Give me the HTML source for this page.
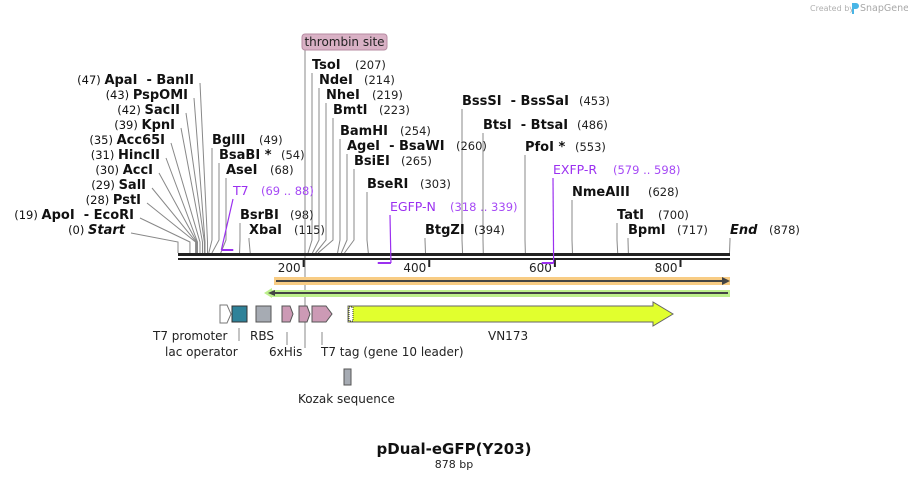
<!DOCTYPE html>
<html><head><meta charset="utf-8">
<style>
html,body{margin:0;padding:0;background:#fff;}
svg{display:block;font-family:"DejaVu Sans","Liberation Sans",sans-serif;}
</style></head>
<body>
<svg id="map" width="908" height="480" viewBox="0 0 908 480">
  <text x="810" y="11" font-size="8" fill="#b0b0b0">Created by</text>
  <path d="M852 3 h4 a3 3 0 0 1 0 6 h-2 v5 h-2 z" fill="#49b5e6"/>
  <text x="860" y="11" font-size="9.5" fill="#a8a8a8">SnapGene</text>
  <g id="leaders"></g>
  <g id="labels"></g>
  <line x1="305" y1="50" x2="305" y2="348" stroke="#888" stroke-width="1"/>
  <rect x="302" y="34" width="85" height="16" rx="3" fill="#d9b1c5" stroke="#b78ba2"/>
  <text x="344.5" y="46" font-size="12" text-anchor="middle" fill="#222">thrombin site</text>
  <rect x="178" y="253" width="552" height="3" fill="#222"/>
  <rect x="178" y="258" width="552" height="2" fill="#222"/>
  <g id="ticks"></g>
  <g id="primers"></g>
  <rect x="274" y="277" width="456" height="8" fill="#f8cc84"/>
  <line x1="276" y1="281" x2="724" y2="281" stroke="#444" stroke-width="2"/>
  <path d="M722 277 L730 281 L722 285 Z" fill="#444"/>
  <rect x="270" y="290" width="460" height="7" fill="#bdf08c"/>
  <path d="M264 293 L272 288 L272 298 Z" fill="#bdf08c"/>
  <line x1="272" y1="293" x2="728" y2="293" stroke="#444" stroke-width="2"/>
  <path d="M268 293 L275 290 L275 296 Z" fill="#444"/>
  <path d="M220 305 L227 305 L231 314 L227 323 L220 323 Z" fill="#fff" stroke="#777"/>
  <rect x="232" y="306" width="15" height="16" fill="#2f8299" stroke="#333"/>
  <rect x="256" y="306" width="15" height="16" fill="#a6abb3" stroke="#555"/>
  <path d="M282 306 L290 306 L293 314 L290 322 L282 322 Z" fill="#cc9ab5" stroke="#555"/>
  <path d="M299 306 L307 306 L310 314 L307 322 L299 322 Z" fill="#cc9ab5" stroke="#555"/>
  <path d="M312 306 L326 306 L332 314 L326 322 L312 322 Z" fill="#cc9ab5" stroke="#555"/>
  <path d="M348 306 L653 306 L653 302 L673 314 L653 326 L653 322 L348 322 Z" fill="#e1ff2e" stroke="#666"/>
  <rect x="349" y="307" width="4" height="14" fill="#fff" stroke="#333" stroke-dasharray="1 1" stroke-width="1"/>
  <rect x="344" y="369" width="7" height="16" fill="#a6abb3" stroke="#555"/>
  <line x1="239" y1="328" x2="239" y2="341" stroke="#888"/>
  <line x1="287" y1="332" x2="287" y2="345" stroke="#888"/>
  <line x1="322" y1="332" x2="322" y2="345" stroke="#888"/>
  <g font-size="12" fill="#222">
    <text x="153" y="340">T7 promoter</text>
    <text x="165" y="356">lac operator</text>
    <text x="250" y="340">RBS</text>
    <text x="269" y="356">6xHis</text>
    <text x="321" y="356">T7 tag (gene 10 leader)</text>
    <text x="488" y="340">VN173</text>
    <text x="298" y="403">Kozak sequence</text>
  </g>
  <text x="454" y="454" font-size="15" font-weight="bold" text-anchor="middle" fill="#111">pDual-eGFP(Y203)</text>
  <text x="454" y="468" font-size="11" text-anchor="middle" fill="#222">878 bp</text>
</svg>
<script>
const leftNames = ["ApaI  - BanII","PspOMI","SacII","KpnI","Acc65I","HincII","AccI","SalI","PstI","ApoI  - EcoRI","Start"];
const leftPos = [47,43,42,39,35,31,30,29,28,19,0];
const rightNames = ["BglII","BsaBI *","AseI","BsrBI","XbaI","TsoI","NdeI","NheI","BmtI","BamHI","AgeI  - BsaWI","BsiEI","BseRI","BtgZI","BssSI  - BssSaI","BtsI  - BtsaI","PfoI *","NmeAIII","TatI","BpmI","End"];
const rightPos = [49,54,68,98,115,207,214,219,223,254,260,265,303,394,453,486,553,628,700,717,878];
const primerNames = ["T7","EGFP-N","EXFP-R"];
const primerStart = [69,318,579];
const primerEnd = [88,339,598];
const tickValues = [200,400,600,800];
const seqLen = 878;

const NS="http://www.w3.org/2000/svg";
const X0=178, X1=729.5;
function xScale(bp){return X0+bp*(X1-X0)/seqLen;}
function mk(tag,attrs,parent){const e=document.createElementNS(NS,tag);for(const k in attrs)e.setAttribute(k,attrs[k]);parent.appendChild(e);return e;}
const leaders=document.getElementById('leaders'), labels=document.getElementById('labels');

const leftLayout=[[194,80],[188,95],[180,110],[175,125],[165,140],[160,155],[153,170],[146,185],[141,200],[134,215],[125,230]];
leftNames.forEach((n,i)=>{
  const [ex,y]=leftLayout[i];
  const t=mk('text',{x:ex,y:y+4,'text-anchor':'end',fill:'#111','xml:space':'preserve'},labels);
  
  
  const a=mk('tspan',{'font-size':11.5},t); a.textContent='('+leftPos[i]+')  ';
  const b=mk('tspan',{'font-weight':'bold','font-size':13},t); b.textContent=n.replace('  ','\u00a0 ');
  if(n==='Start') b.setAttribute('font-style','italic');
  const px=xScale(leftPos[i]);
  const l=mk('path',{d:`M${ex+6} ${y+3} L${px} 242 L${px} 253`,stroke:'#888',fill:'none','stroke-width':1},leaders);
  
  
});
const rightLayout=[[212,140,259],[219,155,281],[226,170,270],[240,215,290],[249,230,294],[312,65,355],[319,80,364],[326,95,372],[333,110,379],[340,131,400],[347,146,456],[354,161,401],[367,184,420],[425,230,474],[462,101,579],[483,125,577],[525,147,575],[572,192,648],[617,215,658],[628,230,677],[730,230,769]];
rightNames.forEach((n,i)=>{
  const [nx,y,numx]=rightLayout[i];
  const t=mk('text',{x:nx,y:y+4,'font-size':13,'font-weight':'bold',fill:'#111'},labels);
  
  
  t.textContent=n.replace('  ','\u00a0 ');
  if(n==='End') t.setAttribute('font-style','italic');
  const num=mk('text',{x:numx,y:y+4,'font-size':11.5,fill:'#222'},labels);
  
  
  num.textContent='('+rightPos[i]+')';
  const px=xScale(rightPos[i]);
  const l=mk('path',{d:`M${nx} ${y+8} L${nx} 240 L${px} 253`,stroke:'#888',fill:'none','stroke-width':1},leaders);
  
  
});

const ticks=document.getElementById('ticks');
tickValues.forEach(v=>{
  const x=xScale(v);
  const r=mk('rect',{x:x-1,y:260,width:2,height:7,fill:'#222'},ticks);
  
  
  const t=mk('text',{x:x-3,y:272,'font-size':12,'text-anchor':'end',fill:'#222'},ticks);
  
  
  t.textContent=v;
});

const primers=document.getElementById('primers');
const primerLabel=[[233,191,261],[390,207,450],[553,170,613]];
const primerFwd=[true,false,false];
primerNames.forEach((n,i)=>{
  const xs=xScale(primerStart[i]), xe=xScale(primerEnd[i]);
  const [lx,ly,nx]=primerLabel[i];
  const by=primerFwd[i]?250:263;
  const bar=mk('rect',{x:xs,y:by-1,width:xe-xs,height:2,fill:'#9b30f0'},primers);
  
  
  const ax=primerFwd[i]?xs:xe;
  const ln=mk('path',{d:`M${lx} ${ly+8} L${ax} ${by}`,stroke:'#9b30f0',fill:'none','stroke-width':1.2},primers);
  
  
  const t=mk('text',{x:lx,y:ly+4,'font-size':12.5,fill:'#9b30f0'},primers);
  
  
  t.textContent=n;
  const r=mk('text',{x:nx,y:ly+4,'font-size':11.5,fill:'#a64af5'},primers);
  
  
  r.textContent='('+primerStart[i]+' .. '+primerEnd[i]+')';
});
</script>
</body></html>
